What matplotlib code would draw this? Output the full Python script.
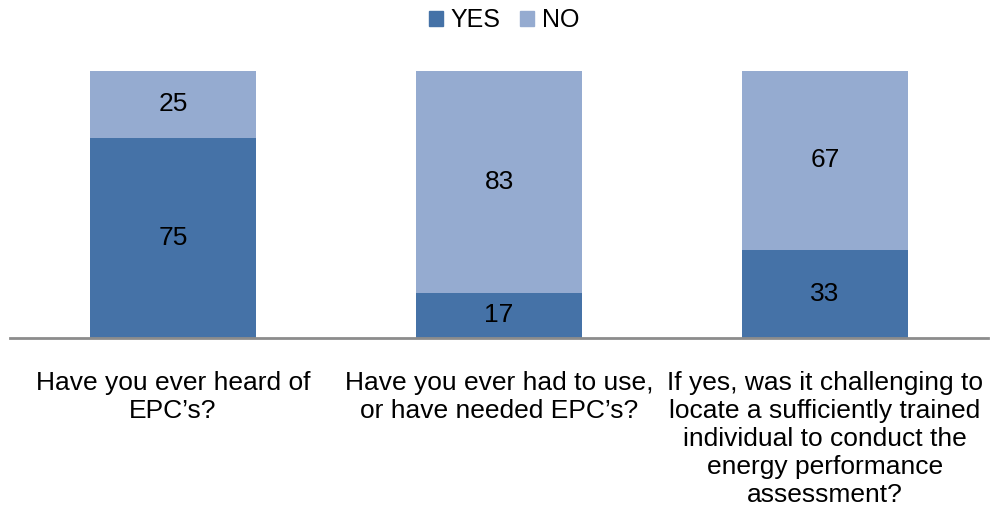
import matplotlib
matplotlib.use("Agg")
import matplotlib.pyplot as plt
from matplotlib.patches import Patch

plt.rcParams['font.family'] = ['Liberation Sans', 'DejaVu Sans']

categories = [
    "Have you ever heard of\nEPC\u2019s?",
    "Have you ever had to use,\nor have needed EPC\u2019s?",
    "If yes, was it challenging to\nlocate a sufficiently trained\nindividual to conduct the\nenergy performance\nassessment?",
]
yes_vals = [75, 17, 33]
no_vals = [25, 83, 67]

YES_COLOR = "#4572A7"
NO_COLOR = "#95ABD0"
FS = 19

fig = plt.figure(figsize=(9.9, 5.15), dpi=100)
ax = fig.add_axes([10 / 990, 1 - 338 / 515, 978 / 990, (338 - 71) / 515])

x = list(range(len(categories)))
w = 0.51
ax.bar(x, yes_vals, width=w, color=YES_COLOR, zorder=2)
ax.bar(x, no_vals, width=w, bottom=yes_vals, color=NO_COLOR, zorder=2)

for xi, yv, nv in zip(x, yes_vals, no_vals):
    ax.text(xi, yv / 2, f"{yv}", ha="center", va="center", fontsize=FS, color="black")
    ax.text(xi, yv + nv / 2, f"{nv}", ha="center", va="center", fontsize=FS, color="black")

ax.set_xlim(-0.5, 2.5)
ax.set_ylim(0, 100)
ax.set_yticks([])
ax.set_xticks(x)
ax.set_xticklabels(categories, fontsize=FS, linespacing=1.2, va="top")
ax.tick_params(axis="x", length=0, pad=24)
for s in ["top", "right", "left"]:
    ax.spines[s].set_visible(False)
ax.spines["bottom"].set_color("#8C8C8C")
ax.spines["bottom"].set_linewidth(2)

handles = [Patch(color=YES_COLOR, label="YES"), Patch(color=NO_COLOR, label="NO")]
fig.legend(handles=handles, loc="center", bbox_to_anchor=(504 / 990, 1 - 20 / 515),
           ncol=2, frameon=False, fontsize=18, handlelength=0.55, handleheight=0.55,
           handletextpad=0.3, columnspacing=0.8)

fig.savefig("out.png", dpi=100)
